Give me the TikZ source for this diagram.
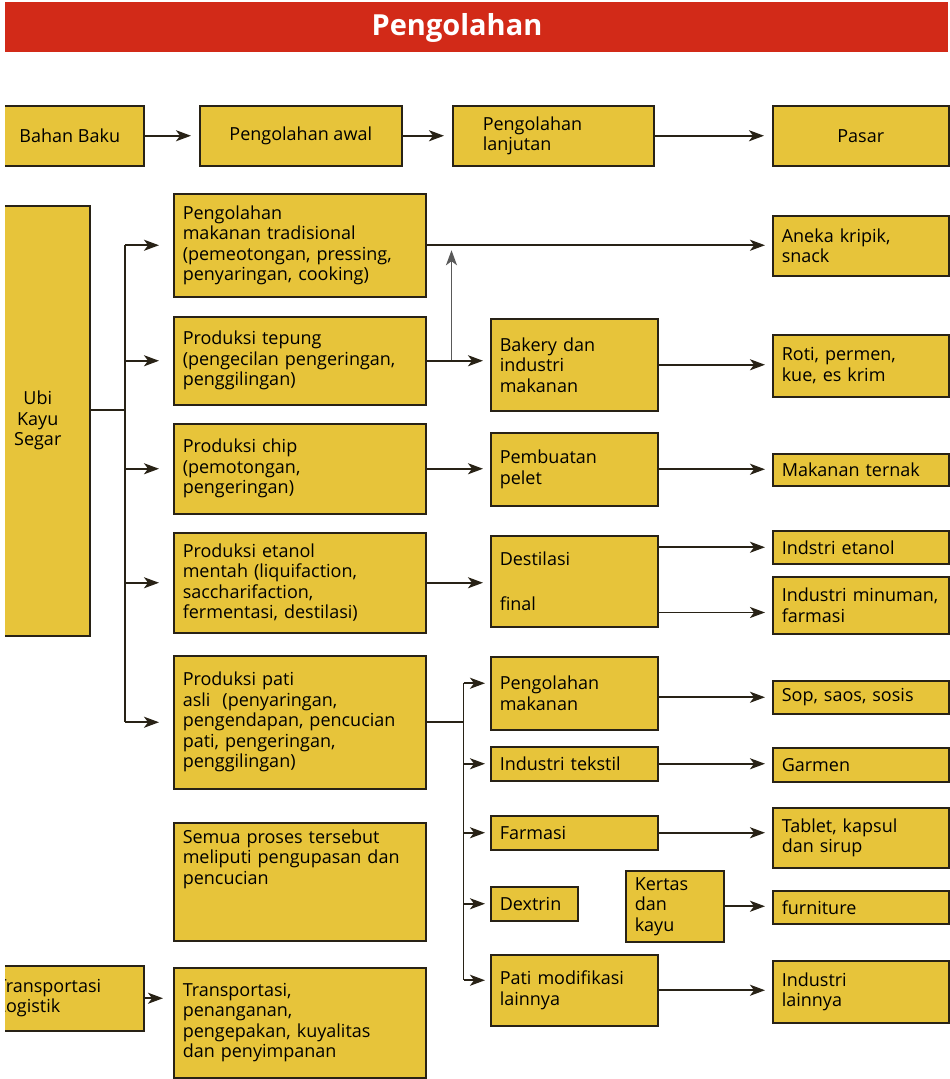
\documentclass[tikz,border=0pt]{standalone}
\usepackage{fontspec}
\setmainfont{Open Sans}
\usepackage{tikz}
\usetikzlibrary{arrows.meta,calc}
\definecolor{kuning}{RGB}{231,196,58}
\definecolor{garis}{RGB}{40,34,22}
\definecolor{merah}{RGB}{210,42,24}
\tikzset{
  kotak/.style={draw=garis,fill=kuning,line width=1.5pt,anchor=north west,inner xsep=9pt,inner ysep=2pt,align=left,font=\fontsize{18}{20.5}\selectfont},
  panah/.style={-{Stealth[length=15pt,width=11pt,inset=4pt]},line width=1.8pt,draw=garis},
  garisan/.style={line width=1.8pt,draw=garis}
}

\begin{document}
\begin{tikzpicture}[x=1pt,y=-1pt]
\useasboundingbox (0,0) rectangle (950,1079);
\clip (5,0) rectangle (950,1079);
\fill[merah] (5,2) rectangle (948,52);
\node[text=white,font=\fontsize{29}{32}\selectfont\bfseries] (judul) at (457,28) {Pengolahan};

\node[kotak,align=center,minimum width=148pt,minimum height=60pt] (bahan) at (-5,105) {Bahan Baku};
\node[kotak,align=center,minimum width=202pt,minimum height=60pt] (awal) at (199,105) {Pengolahan awal};
\node[kotak,inner xsep=30pt,text width=141pt,minimum height=60pt] (lanjut) at (452,105) {Pengolahan\\lanjutan};
\node[kotak,align=center,minimum width=176pt,minimum height=60pt] (pasar) at (772,105) {Pasar};
\draw[panah,shorten >=8pt] (bahan) -- (awal);
\draw[panah,shorten >=8pt] (awal) -- (lanjut);
\draw[panah,shorten >=8pt] (lanjut) -- (pasar);

\node[kotak,align=center,minimum width=104pt,minimum height=430pt] (ubi) at (-15,205) {Ubi\\Kayu\\Segar};
\node[kotak,text width=138pt,minimum height=65pt] (transkiri) at (-13,965) {Transportasi\\Logistik};

\foreach \nm/\y/\h/\teks in {
  trad/193/103/{Pengolahan\\makanan tradisional\\(pemeotongan, pressing,\\penyaringan, cooking)},
  tepung/316/88/{Produksi tepung\\(pengecilan pengeringan,\\penggilingan)},
  chip/423/90/{Produksi chip\\(pemotongan,\\pengeringan)},
  etanol/532/100/{Produksi etanol\\mentah (liquifaction,\\saccharifaction,\\fermentasi, destilasi)},
  pati/655/133/{Produksi pati\\asli\ \ (penyaringan,\\pengendapan, pencucian\\pati, pengeringan,\\penggilingan)},
  semua/822/118/{Semua proses tersebut\\meliputi pengupasan dan\\pencucian\rule[-50pt]{0pt}{50pt}},
  trans/967/110/{Transportasi,\\penanganan,\\pengepakan, kuyalitas\\dan penyimpanan}}{
  \node[kotak,minimum width=252pt,minimum height=\h pt,text width=234pt] (\nm) at (173,\y) {\teks};
}

\foreach \nm/\x/\y/\w/\h/\teks in {
  bakery/490/318/167/92/{Bakery dan\\industri\\makanan},
  pelet/490/432/167/73/{Pembuatan\\pelet},
  destilasi/490/535/167/91/{Destilasi\\[24pt]final},
  olahmakan/490/656/167/73/{Pengolahan\\makanan},
  tekstil/490/746/167/34/{Industri tekstil},
  farmasi/490/815/167/34/{Farmasi},
  dextrin/490/886/87/34/{Dextrin},
  kertas/625/870/98/71/{Kertas\\dan\\kayu},
  patimod/490/954/167/71/{Pati modifikasi\\lainnya}}{
  \pgfmathsetmacro\tw{\w-18}
  \node[kotak,minimum width=\w pt,minimum height=\h pt,text width=\tw pt] (\nm) at (\x,\y) {\teks};
}

\foreach \nm/\y/\h/\teks in {
  kripik/215/60/{Aneka kripik,\\snack},
  roti/334/62/{Roti, permen,\\kue, es krim},
  ternak/453/32/{Makanan ternak},
  indetanol/530/33/{Indstri etanol},
  minuman/576/57/{Industri minuman,\\farmasi},
  sop/680/33/{Sop, saos, sosis},
  garmen/747/34/{Garmen},
  tablet/807/60/{Tablet, kapsul\\dan sirup},
  furniture/890/33/{furniture},
  lainnya/960/62/{Industri\\lainnya}}{
  \node[kotak,minimum width=176pt,minimum height=\h pt,text width=158pt] (\nm) at (772,\y) {\teks};
}

\coordinate (cab) at (125,410);
\draw[garisan] (ubi.east |- cab) -- (cab);
\draw[garisan] (cab |- trad.west) -- (cab |- pati.west);
\foreach \nm in {trad,tepung,chip,etanol,pati}
  \draw[panah,shorten >=14pt] (cab |- \nm.west) -- (\nm.west);

\draw[panah,shorten >=7pt] (trad.east) -- (trad.east -| kripik.west);
\coordinate (naik) at ($(tepung.east)+(25,0)$);
\draw[panah,draw=black!65,line width=1.3pt,shorten >=5pt] (naik) -- (naik |- trad.east);
\draw[panah,shorten >=7pt] (tepung.east) -- (tepung.east -| bakery.west);
\draw[panah,shorten >=7pt] (bakery.east) -- (bakery.east -| roti.west);
\draw[panah,shorten >=7pt] (chip.east) -- (chip.east -| pelet.west);
\draw[panah,shorten >=7pt] (pelet.east) -- (pelet.east -| ternak.west);
\draw[panah,shorten >=7pt] (etanol.east) -- (etanol.east -| destilasi.west);
\draw[panah,shorten >=7pt] (destilasi.east |- indetanol.west) -- (indetanol.west);
\coordinate (fin) at ([yshift=15pt]destilasi.south east);
\draw[panah,shorten >=7pt] (fin) -- (fin -| minuman.west);

\coordinate (cab2) at ($(pati.east)+(37,0)$);
\draw[garisan] (pati.east) -- (cab2);
\foreach \nm/\g in {olahmakan/10,tekstil/0,farmasi/0,dextrin/0,patimod/10}{
  \coordinate (m\nm) at ([yshift=\g pt]\nm.west);
  \draw[panah,shorten >=5pt] (cab2 |- m\nm) -- (m\nm);
}
\draw[garisan] (cab2 |- molahmakan) -- (cab2 |- mpatimod);

\draw[panah,shorten >=7pt] (olahmakan.east |- sop.west) -- (sop.west);
\draw[panah,shorten >=7pt] (tekstil.east) -- (tekstil.east -| garmen.west);
\draw[panah,shorten >=7pt] (farmasi.east) -- (farmasi.east -| tablet.west);
\draw[panah,shorten >=7pt] (kertas.east) -- (kertas.east -| furniture.west);
\draw[panah,shorten >=7pt] (patimod.east) -- (patimod.east -| lainnya.west);
\draw[panah,shorten >=10pt] (transkiri.east) -- (transkiri.east -| trans.west);
\end{tikzpicture}
\end{document}
